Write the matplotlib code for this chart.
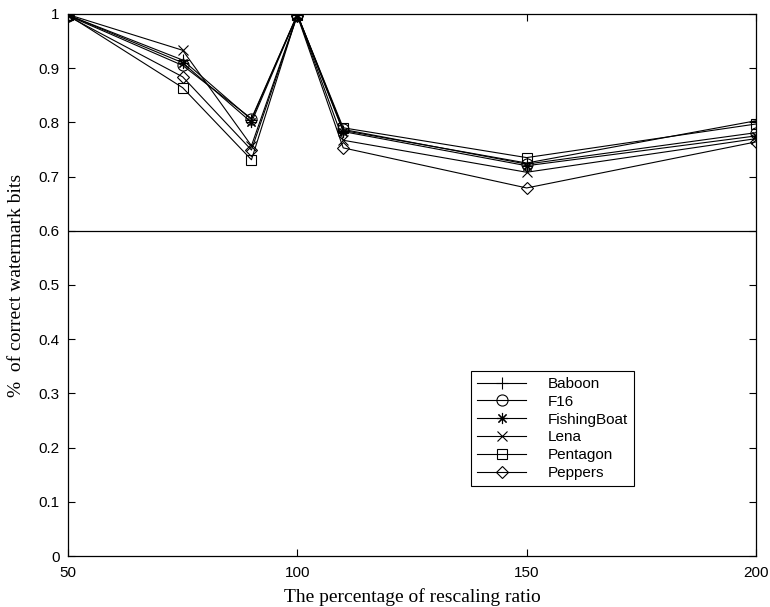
import numpy as np
import matplotlib.pyplot as plt

ratio = [50, 75, 90, 100, 110, 150, 200]

baboon = [0.998, 0.915, 0.805, 0.999, 0.785, 0.725, 0.803]
f16 = [0.997, 0.905, 0.807, 0.999, 0.787, 0.723, 0.781]
fishingboat = [0.998, 0.910, 0.800, 0.998, 0.783, 0.720, 0.775]
lena = [0.999, 0.933, 0.757, 0.998, 0.767, 0.708, 0.770]
pentagon = [0.998, 0.864, 0.731, 0.999, 0.790, 0.735, 0.797]
peppers = [0.996, 0.884, 0.749, 0.997, 0.753, 0.679, 0.764]

names = ['Baboon', 'F16', 'FishingBoat', 'Lena', 'Pentagon', 'Peppers']
series = [baboon, f16, fishingboat, lena, pentagon, peppers]
# matlab style markers: + o * x s d
markers = ['+', 'o', (8, 2, 0), 'x', 's', 'D']
sizes = [9, 8, 8, 7, 7, 6]

fig = plt.figure(figsize=(7.7, 6.07), dpi=100)
ax = fig.add_axes([0.0883, 0.084, 0.8935, 0.893])

for y, name, m, s in zip(series, names, markers, sizes):
    ax.plot(ratio, y, color='black', linewidth=0.8, marker=m, markersize=s,
            markerfacecolor='none', markeredgecolor='black', markeredgewidth=0.8, label=name)

ax.axhline(0.6, color='black', linewidth=0.9)

ax.set_xlim(50, 200)
ax.set_ylim(0, 1)
ax.set_xticks([50, 100, 150, 200])
ax.set_yticks(np.arange(0, 1.01, 0.1))
ax.set_yticklabels(['0', '0.1', '0.2', '0.3', '0.4', '0.5', '0.6', '0.7', '0.8', '0.9', '1'])
ax.tick_params(direction='in', top=True, right=True, length=5, width=0.8,
               labelsize=11, labelfontfamily='Liberation Sans')
ax.tick_params(axis='y', pad=6)
ax.tick_params(axis='x', pad=7)
for sp in ax.spines.values():
    sp.set_linewidth(0.9)

ax.set_xlabel('The percentage of rescaling ratio', fontsize=14, family='Liberation Serif', labelpad=6)
ax.set_ylabel('%  of correct watermark bits', fontsize=14, family='Liberation Serif', labelpad=10)

leg = ax.legend(loc='lower left', bbox_to_anchor=(0.586, 0.129), frameon=True, fancybox=False,
                edgecolor='black', framealpha=1, prop={'family': 'Liberation Sans', 'size': 11},
                handlelength=3.2, labelspacing=0.25, borderpad=0.4, handletextpad=1.4,
                borderaxespad=0)
leg.get_frame().set_linewidth(0.8)
leg._legend_box.sep = 4
for t in leg.get_texts():
    t.set_x(0)

fig.savefig('out.png', dpi=100)
